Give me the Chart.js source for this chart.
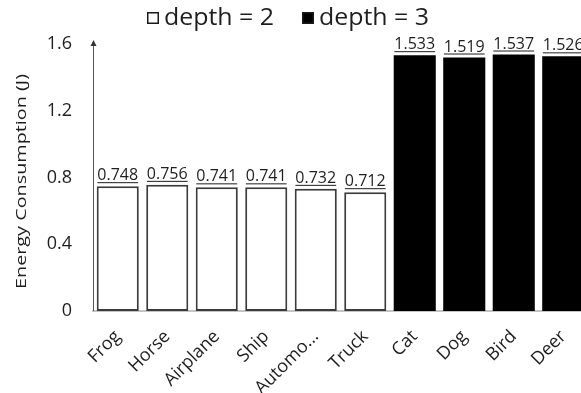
<!DOCTYPE html>
<html>
<head>
<meta charset="utf-8">
<script src="https://cdn.jsdelivr.net/npm/chart.js@4/dist/chart.umd.min.js"></script>
<style>
  html, body { margin: 0; padding: 0; background: #fff; overflow: hidden; width: 581px; height: 393px; }
  canvas { display: block; }
</style>
</head>
<body>
<canvas id="chart" width="590" height="393"></canvas>
<script>
// Energy use per class, split by tree depth
const categories = ['Frog', 'Horse', 'Airplane', 'Ship', 'Automo...', 'Truck', 'Cat', 'Dog', 'Bird', 'Deer'];
const depth2Values = [0.748, 0.756, 0.741, 0.741, 0.732, 0.712, null, null, null, null];
const depth3Values = [null, null, null, null, null, null, 1.533, 1.519, 1.537, 1.526];
const yTickValues = [0, 0.4, 0.8, 1.2, 1.6];
const seriesNames = ['depth = 2', 'depth = 3'];
const yAxisTitle = 'Energy Consumption (J)';

const FONT = '"Open Sans", "DejaVu Sans", sans-serif';
const TEXT = '#1e1e1e';

// Value label above each bar, underlined
const valueLabels = {
  id: 'valueLabels',
  afterDatasetsDraw(chart) {
    const ctx = chart.ctx;
    ctx.save();
    ctx.font = '16px ' + FONT;
    ctx.fillStyle = TEXT;
    ctx.textAlign = 'center';
    ctx.textBaseline = 'alphabetic';
    chart.data.datasets.forEach((ds, di) => {
      const meta = chart.getDatasetMeta(di);
      meta.data.forEach((el, i) => {
        const v = ds.data[i];
        if (v === null || v === undefined) return;
        const txt = v.toFixed(3);
        const baseY = el.y - 6;
        ctx.fillText(txt, el.x, baseY);
        const w = ctx.measureText(txt).width;
        ctx.fillRect(el.x - w / 2, baseY + 2, w, 1);
      });
    });
    ctx.restore();
  }
};

// Vertical axis line ending in an arrowhead, plus the stretched axis title
const axisArrow = {
  id: 'axisArrow',
  afterDraw(chart) {
    const ctx = chart.ctx;
    const x = chart.chartArea.left + 0.5;
    const bottom = chart.chartArea.bottom;
    const tipY = chart.chartArea.top - 4;
    ctx.save();
    ctx.strokeStyle = '#555';
    ctx.fillStyle = '#333';
    ctx.lineWidth = 1;
    ctx.beginPath();
    ctx.moveTo(x, bottom);
    ctx.lineTo(x, tipY + 4);
    ctx.stroke();
    ctx.beginPath();
    ctx.moveTo(x, tipY);
    ctx.lineTo(x - 3, tipY + 6);
    ctx.lineTo(x + 3, tipY + 6);
    ctx.closePath();
    ctx.fill();

    // axis title, rotated and drawn long and narrow
    ctx.font = '14px ' + FONT;
    const w = ctx.measureText(yAxisTitle).width;
    const targetLen = 215;
    ctx.translate(22, 181.5);
    ctx.rotate(-Math.PI / 2);
    ctx.scale(targetLen / w, 1);
    ctx.fillStyle = TEXT;
    ctx.textAlign = 'center';
    ctx.textBaseline = 'middle';
    ctx.fillText(yAxisTitle, 0, 0);
    ctx.restore();
  }
};

// Legend row above the plot
const topLegend = {
  id: 'topLegend',
  afterDraw(chart) {
    const ctx = chart.ctx;
    ctx.save();
    ctx.font = '23px ' + FONT;
    ctx.textBaseline = 'middle';
    const box = 12, gap = 5, itemGap = 28, cy = 18, textW = 110;
    let x = 147;
    chart.data.datasets.forEach((ds, i) => {
      if (i) x += itemGap;
      ctx.fillStyle = ds.backgroundColor;
      ctx.fillRect(x, cy - box / 2, box, box);
      ctx.strokeStyle = '#1a1a1a';
      ctx.lineWidth = 1.5;
      ctx.strokeRect(x + 0.75, cy - box / 2 + 0.75, box - 1.5, box - 1.5);
      x += box + gap;
      const w = ctx.measureText(ds.label).width;
      ctx.save();
      ctx.translate(x, cy);
      ctx.scale(textW / w, 1);
      ctx.fillStyle = TEXT;
      ctx.textAlign = 'left';
      ctx.fillText(ds.label, 0, 0);
      ctx.restore();
      x += textW;
    });
    ctx.restore();
  }
};

new Chart(document.getElementById('chart'), {
  type: 'bar',
  data: {
    labels: categories,
    datasets: [
      {
        label: seriesNames[0],
        data: depth2Values,
        backgroundColor: '#ffffff',
        borderColor: '#3c3c3c',
        borderWidth: 2,
        borderSkipped: false
      },
      {
        label: seriesNames[1],
        data: depth3Values,
        backgroundColor: '#000000',
        borderColor: '#000000',
        borderWidth: 0
      }
    ]
  },
  options: {
    responsive: false,
    animation: false,
    devicePixelRatio: 1,
    layout: { padding: { top: 44, right: 2, left: 0, bottom: 0 } },
    datasets: { bar: { grouped: false, categoryPercentage: 1, barPercentage: 0.85 } },
    plugins: {
      legend: { display: false },
      tooltip: { enabled: false }
    },
    scales: {
      x: {
        grid: { display: false },
        border: { display: true, color: '#c4c4c4', width: 2 },
        ticks: {
          color: TEXT,
          font: { family: FONT, size: 18 },
          maxRotation: 45,
          minRotation: 45,
          autoSkip: false,
          padding: 7,
          labelOffset: 0
        },
        afterFit(scale) { scale.height = 82; }
      },
      y: {
        min: 0,
        max: 1.6,
        grid: { display: false },
        border: { display: false },
        afterBuildTicks(scale) { scale.ticks = yTickValues.map(v => ({ value: v })); },
        ticks: {
          color: TEXT,
          font: { family: FONT, size: 18 },
          padding: 13,
          callback: v => String(v)
        },
        afterFit(scale) { scale.width = 93; }
      }
    }
  },
  plugins: [valueLabels, axisArrow, topLegend]
});
</script>
</body>
</html>
